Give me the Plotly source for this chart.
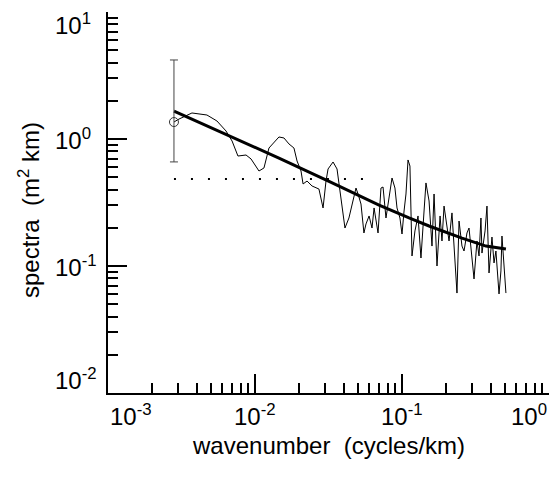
import plotly.graph_objects as go

# ---- data (log10 values) ----
spec_logk = [-2.551, -2.517, -2.429, -2.327, -2.259, -2.197, -2.156, -2.116, -2.061, -2.027,
             -1.973, -1.939, -1.905, -1.837, -1.803, -1.769, -1.735, -1.714, -1.687, -1.673,
             -1.646, -1.612, -1.565, -1.537, -1.517, -1.503, -1.469, -1.442, -1.422, -1.388,
             -1.361, -1.333, -1.313, -1.299, -1.279, -1.259, -1.245, -1.224, -1.204, -1.190,
             -1.177, -1.163, -1.143, -1.129, -1.109, -1.088, -1.068, -1.048, -1.034, -1.014,
             -1.000, -0.986, -0.973, -0.959, -0.946, -0.932, -0.912, -0.891, -0.871, -0.850,
             -0.837, -0.816, -0.796, -0.782, -0.762, -0.741, -0.728, -0.714, -0.694, -0.680,
             -0.660, -0.646, -0.626, -0.612, -0.592, -0.578, -0.558, -0.544, -0.524, -0.510,
             -0.490, -0.476, -0.463, -0.456, -0.435, -0.422, -0.408, -0.388, -0.374, -0.361,
             -0.340, -0.327, -0.320, -0.306, -0.293]
spec_logS = [0.134, 0.157, 0.205, 0.189, 0.142, 0.063, -0.016, -0.134, -0.126, -0.157,
             -0.252, -0.228, -0.071, 0.016, 0.008, -0.039, -0.071, -0.173, -0.252, -0.354,
             -0.331, -0.370, -0.394, -0.543, -0.331, -0.236, -0.181, -0.236, -0.409, -0.701,
             -0.622, -0.488, -0.386, -0.433, -0.512, -0.740, -0.669, -0.606, -0.701, -0.543,
             -0.646, -0.740, -0.386, -0.378, -0.622, -0.465, -0.307, -0.386, -0.543, -0.622,
             -0.748, -0.567, -0.433, -0.165, -0.213, -0.921, -0.724, -0.606, -0.937, -0.567,
             -0.346, -0.488, -0.843, -0.433, -1.000, -0.606, -0.803, -0.528, -0.685, -0.803,
             -0.582, -0.882, -1.213, -0.646, -0.843, -0.882, -0.740, -0.701, -0.976, -1.102,
             -0.803, -0.921, -0.622, -0.898, -0.724, -0.528, -1.055, -0.772, -0.976, -0.882,
             -1.220, -1.039, -0.764, -0.961, -1.213]

fit_logk = [-2.551, -2.2, -1.837, -1.5, -1.156, -0.952, -0.816, -0.592, -0.429, -0.293]
fit_logS = [0.220, 0.039, -0.150, -0.331, -0.520, -0.622, -0.685, -0.780, -0.843, -0.866]

noise_k = [0.00281, 0.059]
noise_S = [0.484, 0.484]

point_k = [0.00281]
point_S = [1.36]
err_plus = [2.83]
err_minus = [0.70]

xtick_vals = [-3, -2, -1, 0]
ytick_vals = [1, 0, -1, -2]

spec_k = [10 ** v for v in spec_logk]
spec_S = [10 ** v for v in spec_logS]
fit_k = [10 ** v for v in fit_logk]
fit_S = [10 ** v for v in fit_logS]

FONT = "Liberation Sans, Arial, Helvetica, sans-serif"
FS = 24

fig = go.Figure()
fig.add_trace(go.Scatter(x=noise_k, y=noise_S, mode="lines",
                         line=dict(color="black", width=2, dash="2px,15px")))
fig.add_trace(go.Scatter(x=spec_k, y=spec_S, mode="lines",
                         line=dict(color="black", width=1)))
fig.add_trace(go.Scatter(x=fit_k, y=fit_S, mode="lines",
                         line=dict(color="black", width=3)))
fig.add_trace(go.Scatter(x=point_k, y=point_S, mode="markers",
                         marker=dict(symbol="circle-open", size=9, color="#333",
                                     line=dict(width=1)),
                         error_y=dict(type="data", symmetric=False, array=err_plus,
                                      arrayminus=err_minus, color="#444",
                                      thickness=1, width=4)))

L, R, T, B = 108, 5, 12, 84
W, H = 554, 477
pw, ph = W - L - R, H - T - B

ann = []
for v in xtick_vals:
    xa = "center"
    if v == xtick_vals[0]:
        xa = "left"
    elif v == xtick_vals[-1]:
        xa = "right"
    ann.append(dict(x=v, xref="x", y=-22 / ph, yref="paper", yanchor="middle",
                    xanchor=xa, text="10<sup>%d</sup>" % v, showarrow=False,
                    font=dict(size=FS, family=FONT, color="black")))
for v in ytick_vals:
    ya, ys = "middle", 0
    if v == ytick_vals[0]:
        ya, ys = "top", 5
    elif v == ytick_vals[-1]:
        ya, ys = "bottom", -3
    ann.append(dict(x=-55 / pw, xref="paper", y=v, yref="y", xanchor="left",
                    yanchor=ya, yshift=ys, text="10<sup>%d</sup>" % v, showarrow=False,
                    font=dict(size=FS, family=FONT, color="black")))
ann.append(dict(x=0.5, xref="paper", y=-52 / ph, yref="paper", yanchor="middle",
                xanchor="center", text="wavenumber&nbsp; (cycles/km)", showarrow=False,
                font=dict(size=FS, family=FONT, color="black")))
ann.append(dict(x=-79 / pw, xref="paper", y=(393 - 210) / ph, yref="paper",
                xanchor="center", yanchor="middle", textangle=-90,
                text="spectra&nbsp; (m<sup>2</sup> km)", showarrow=False,
                font=dict(size=FS, family=FONT, color="black")))

axis_common = dict(type="log", showgrid=False, zeroline=False, showline=True,
                   linecolor="black", linewidth=2, ticks="inside", ticklen=19,
                   tickwidth=2, tickcolor="black", showticklabels=False, dtick=1,
                   minor=dict(ticks="inside", ticklen=10, tickwidth=2,
                              tickcolor="black", dtick="D1", showgrid=False))

fig.update_layout(
    width=W, height=H, margin=dict(l=L, r=R, t=T, b=B),
    paper_bgcolor="white", plot_bgcolor="white", showlegend=False,
    xaxis=dict(range=[-3, 0], **axis_common),
    yaxis=dict(range=[-2, 1], **axis_common),
    annotations=ann,
)
fig.write_html("out.html")
